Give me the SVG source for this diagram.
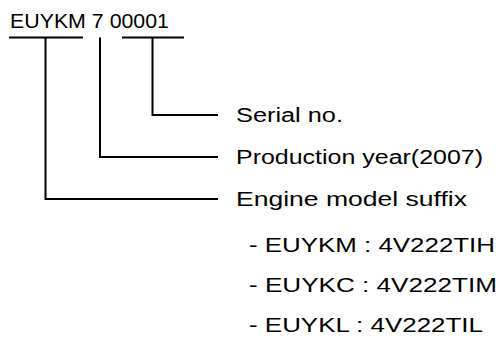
<svg xmlns="http://www.w3.org/2000/svg" width="500" height="341" viewBox="0 0 500 341">
<style>
.t{font-family:"Liberation Sans",Arial,sans-serif;fill:#000}
.code{font-size:21px}
.lbl{font-size:20px}
.ln{stroke:#000;stroke-width:2;fill:none}
</style>
<rect width="500" height="341" fill="#fff"/>
<g id="code">
<text class="t code" x="10" y="28" textLength="159" lengthAdjust="spacingAndGlyphs">EUYKM 7 00001</text>
</g>
<g id="connectors">
<line class="ln" x1="9" y1="37.5" x2="83" y2="37.5"/>
<line class="ln" x1="122" y1="37.5" x2="184" y2="37.5"/>
<polyline class="ln" points="152.5,37.5 152.5,115 218,115"/>
<polyline class="ln" points="100,37.5 100,157 218,157"/>
<polyline class="ln" points="45.5,37.5 45.5,199 218,199"/>
</g>
<g id="serial">
<text class="t lbl" x="236" y="122" textLength="107" lengthAdjust="spacingAndGlyphs">Serial no.</text>
</g>
<g id="year">
<text class="t lbl" x="236" y="164" textLength="247" lengthAdjust="spacingAndGlyphs">Production year(2007)</text>
</g>
<g id="engine">
<text class="t lbl" x="236" y="206" textLength="231" lengthAdjust="spacingAndGlyphs">Engine model suffix</text>
<text class="t lbl" x="249" y="252" textLength="246" lengthAdjust="spacingAndGlyphs">- EUYKM : 4V222TIH</text>
<text class="t lbl" x="249" y="292" textLength="248" lengthAdjust="spacingAndGlyphs">- EUYKC : 4V222TIM</text>
<text class="t lbl" x="249" y="332" textLength="234" lengthAdjust="spacingAndGlyphs">- EUYKL : 4V222TIL</text>
</g>
</svg>
